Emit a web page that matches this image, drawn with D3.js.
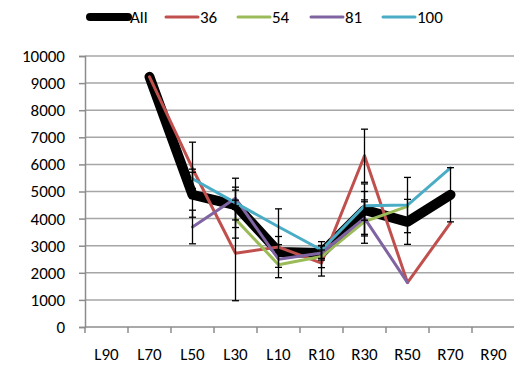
<!DOCTYPE html>
<html>
<head>
<meta charset="utf-8">
<script src="https://cdn.jsdelivr.net/npm/d3@7/dist/d3.min.js"></script>
<style>
  html, body { margin: 0; padding: 0; background: #fff; }
  svg { display: block; font-family: Carlito, Lato, "Open Sans", sans-serif; }
</style>
</head>
<body>
<svg id="chart" width="514" height="369"></svg>
<script>
// Categories along the x axis
const categories = ["L90", "L70", "L50", "L30", "L10", "R10", "R30", "R50", "R70", "R90"];

// Series values (null = no point)
const seriesNames = ["All", "36", "54", "81", "100"];
const valuesAll = [null, 9230, 4880, 4500, 2770, 2730, 4320, 3880, 4880, null];
const values36  = [null, 9230, 5850, 2720, 2950, 2360, 6320, 1640, 3840, null];
const values54  = [null, null, null, 3980, 2300, 2600, 3890, 4450, null, null];
const values81  = [null, null, 3690, 4750, 2500, 2730, 4020, 1640, null, null];
const values100 = [null, null, 5470, 4580, 3700, 2840, 4470, 4500, 5870, null];

// Error bar half-lengths (null = no bar)
const errAll = [null, null, 830, 550, 570, 260, 960, 830, 1000, null];
const err36  = [null, null, 970, 1750, null, 480, 980, null, null, null];
const err54  = [null, null, null, 700, 480, 410, 800, null, null, null];
const err81  = [null, null, 620, 410, null, null, 600, null, null, null];
const err100 = [null, null, 355, 910, 660, 310, 530, 1020, null, null];

// Y axis ticks
const yTicks = [0, 1000, 2000, 3000, 4000, 5000, 6000, 7000, 8000, 9000, 10000];

const seriesValues = [valuesAll, values36, values54, values81, values100];
const seriesErrors = [errAll, err36, err54, err81, err100];
const colors = ["#000000", "#C0504D", "#9BBB59", "#8064A2", "#4BACC6"];
const widths = [10, 3, 3, 3, 3];

const svg = d3.select("#chart");
const plot = { left: 85, right: 515, top: 56, bottom: 327 };

const x = d3.scaleBand().domain(categories).range([plot.left, plot.right]);
const y = d3.scaleLinear().domain([0, 10000]).range([plot.bottom, plot.top]);
const cx = c => x(c) + x.bandwidth() / 2;

// Horizontal gridlines
svg.append("g")
  .selectAll("line")
  .data(yTicks.filter(t => t > 0))
  .join("line")
  .attr("x1", plot.left).attr("x2", plot.right)
  .attr("y1", d => y(d)).attr("y2", d => y(d))
  .attr("stroke", "#a6a6a6").attr("stroke-width", 1.5);

// Y axis
const yAxis = svg.append("g")
  .attr("transform", `translate(${plot.left},0)`)
  .call(d3.axisLeft(y).tickValues(yTicks).tickSize(6).tickPadding(14).tickFormat(d3.format("d")));
yAxis.select(".domain").attr("stroke", "#8c8c8c").attr("stroke-width", 1.5);
yAxis.selectAll(".tick line").attr("stroke", "#8c8c8c").attr("stroke-width", 1.5);
yAxis.selectAll(".tick text")
  .attr("font-size", 17).attr("fill", "#000").attr("font-family", "Carlito, Lato, sans-serif");

// X axis: ticks sit on category boundaries
const xAxisG = svg.append("g").attr("transform", `translate(0,${plot.bottom})`);
xAxisG.append("line")
  .attr("x1", plot.left).attr("x2", plot.right)
  .attr("y1", 0).attr("y2", 0)
  .attr("stroke", "#8c8c8c").attr("stroke-width", 1.5);
xAxisG.selectAll("line.tk")
  .data(categories.concat([null]))
  .join("line").attr("class", "tk")
  .attr("x1", (d, i) => plot.left + i * x.bandwidth())
  .attr("x2", (d, i) => plot.left + i * x.bandwidth())
  .attr("y1", 0).attr("y2", 6)
  .attr("stroke", "#8c8c8c").attr("stroke-width", 1.5);
xAxisG.selectAll("text")
  .data(categories)
  .join("text")
  .attr("x", d => cx(d))
  .attr("y", 33)
  .attr("text-anchor", "middle")
  .attr("font-size", 17)
  .attr("fill", "#000")
  .text(d => d);

// Series lines
const line = d3.line()
  .defined(d => d.v !== null)
  .x(d => cx(d.c))
  .y(d => y(d.v));

seriesValues.forEach((vals, si) => {
  const pts = categories.map((c, i) => ({ c, v: vals[i] }));
  svg.append("path")
    .datum(pts)
    .attr("d", line)
    .attr("fill", "none")
    .attr("stroke", colors[si])
    .attr("stroke-width", widths[si])
    .attr("stroke-linejoin", "round")
    .attr("stroke-linecap", "round");
});

// Error bars
const capHalf = 3.5;
const errG = svg.append("g").attr("stroke", "#000").attr("stroke-width", 1.3);
seriesValues.forEach((vals, si) => {
  categories.forEach((c, i) => {
    const v = vals[i], e = seriesErrors[si][i];
    if (v === null || e === null) return;
    const px = cx(c);
    errG.append("line").attr("x1", px).attr("x2", px).attr("y1", y(v - e)).attr("y2", y(v + e));
    errG.append("line").attr("x1", px - capHalf).attr("x2", px + capHalf).attr("y1", y(v - e)).attr("y2", y(v - e));
    errG.append("line").attr("x1", px - capHalf).attr("x2", px + capHalf).attr("y1", y(v + e)).attr("y2", y(v + e));
  });
});

// Legend
const legendX = [90, 166, 238, 311, 383];
const legend = svg.append("g");
seriesNames.forEach((name, si) => {
  const lx = legendX[si];
  const len = si === 0 ? 38 : 32;
  legend.append("line")
    .attr("x1", lx).attr("x2", lx + len)
    .attr("y1", 17).attr("y2", 17)
    .attr("stroke", colors[si])
    .attr("stroke-width", si === 0 ? 8 : 3)
    .attr("stroke-linecap", "round");
  legend.append("text")
    .attr("x", lx + len + 2)
    .attr("y", 23)
    .attr("font-size", 17)
    .attr("fill", "#000")
    .text(name);
});
</script>
</body>
</html>
